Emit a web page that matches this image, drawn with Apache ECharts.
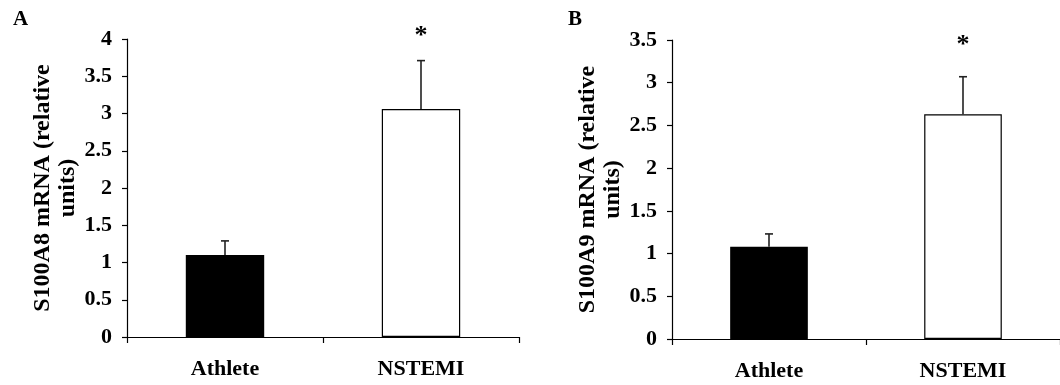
<!DOCTYPE html>
<html>
<head>
<meta charset="utf-8">
<script src="https://cdn.jsdelivr.net/npm/echarts@6/dist/echarts.min.js"></script>
<style>html,body{margin:0;padding:0;background:#fff;}#c{width:1060px;height:385px;}</style>
</head>
<body>
<div id="c"></div>
<script>
var categories = ['Athlete', 'NSTEMI'];
var s100a8Mean = [1.10, 3.06];
var s100a8Err = [0.19, 0.65];
var s100a8Star = [null, 4.09];
var s100a9Mean = [1.08, 2.63];
var s100a9Err = [0.15, 0.44];
var s100a9Star = [null, 3.48];
var yTitleA = 'S100A8 mRNA (relative\nunits)';
var yTitleB = 'S100A9 mRNA (relative\nunits)';
var panelA = 'A';
var panelB = 'B';

var FONT = 'Liberation Serif';
var barColors = ['#000000', '#ffffff'];

function barData(vals) {
  return vals.map(function (v, i) {
    return { value: v, itemStyle: { color: barColors[i], borderColor: '#000', borderWidth: 1.2 } };
  });
}
function errData(mean, err) {
  return mean.map(function (m, i) { return [i, m, m + err[i]]; });
}
function starData(stars) {
  var out = [];
  stars.forEach(function (s, i) { if (s != null) out.push([i, s]); });
  return out;
}
function errRender(params, api) {
  var x = api.value(0);
  var p0 = api.coord([x, api.value(1)]);
  var p1 = api.coord([x, api.value(2)]);
  var hw = 4;
  return {
    type: 'group',
    children: [
      { type: 'line', shape: { x1: p0[0], y1: p0[1], x2: p1[0], y2: p1[1] }, style: { stroke: '#222', lineWidth: 1.6 } },
      { type: 'line', shape: { x1: p1[0] - hw, y1: p1[1], x2: p1[0] + hw, y2: p1[1] }, style: { stroke: '#222', lineWidth: 1.6 } }
    ]
  };
}
function starRender(params, api) {
  var p = api.coord([api.value(0), api.value(1)]);
  return {
    type: 'text', x: p[0], y: p[1] + 4,
    style: { text: '*', font: 'bold 26px "Liberation Serif"', fill: '#000', align: 'center', verticalAlign: 'middle' }
  };
}
function yAxis(idx, max, title) {
  return {
    type: 'value', gridIndex: idx, min: 0, max: max, interval: 0.5,
    axisLine: { show: true, lineStyle: { color: '#000', width: 1.2 } },
    axisTick: { show: true, length: 5, lineStyle: { color: '#000', width: 1.2 } },
    splitLine: { show: false },
    axisLabel: { color: '#000', fontFamily: FONT, fontWeight: 'bold', fontSize: 22, margin: 15 },
    name: title, nameLocation: 'middle', nameGap: 47,
    nameTextStyle: { color: '#000', fontFamily: FONT, fontWeight: 'bold', fontSize: 24, lineHeight: 25, align: 'center' }
  };
}
function xAxis(idx) {
  return {
    type: 'category', gridIndex: idx, data: categories,
    axisLine: { show: true, lineStyle: { color: '#000', width: 1.2 } },
    axisTick: { show: true, length: 6, alignWithLabel: false, lineStyle: { color: '#000', width: 1.2 } },
    axisLabel: { color: '#000', fontFamily: FONT, fontWeight: 'bold', fontSize: 22, margin: 21 }
  };
}

var chart = echarts.init(document.getElementById('c'), null, { renderer: 'canvas' });
chart.setOption({
  animation: false,
  backgroundColor: '#fff',
  grid: [
    { left: 127, top: 39, width: 392, height: 298 },
    { left: 672, top: 40, width: 391, height: 299 }
  ],
  xAxis: [xAxis(0), xAxis(1)],
  yAxis: [yAxis(0, 4, yTitleA), yAxis(1, 3.5, yTitleB)],
  graphic: [
    { type: 'text', left: 13, top: 9, style: { text: panelA, font: 'bold 21px "Liberation Serif"', fill: '#000' } },
    { type: 'text', left: 568, top: 9, style: { text: panelB, font: 'bold 21px "Liberation Serif"', fill: '#000' } }
  ],
  series: [
    { type: 'bar', xAxisIndex: 0, yAxisIndex: 0, barWidth: '40%', data: barData(s100a8Mean) },
    { type: 'custom', xAxisIndex: 0, yAxisIndex: 0, renderItem: errRender, data: errData(s100a8Mean, s100a8Err), z: 3 },
    { type: 'custom', xAxisIndex: 0, yAxisIndex: 0, renderItem: starRender, clip: false, data: starData(s100a8Star), z: 3 },
    { type: 'bar', xAxisIndex: 1, yAxisIndex: 1, barWidth: '40%', data: barData(s100a9Mean) },
    { type: 'custom', xAxisIndex: 1, yAxisIndex: 1, renderItem: errRender, data: errData(s100a9Mean, s100a9Err), z: 3 },
    { type: 'custom', xAxisIndex: 1, yAxisIndex: 1, renderItem: starRender, clip: false, data: starData(s100a9Star), z: 3 }
  ]
});
</script>
</body>
</html>
